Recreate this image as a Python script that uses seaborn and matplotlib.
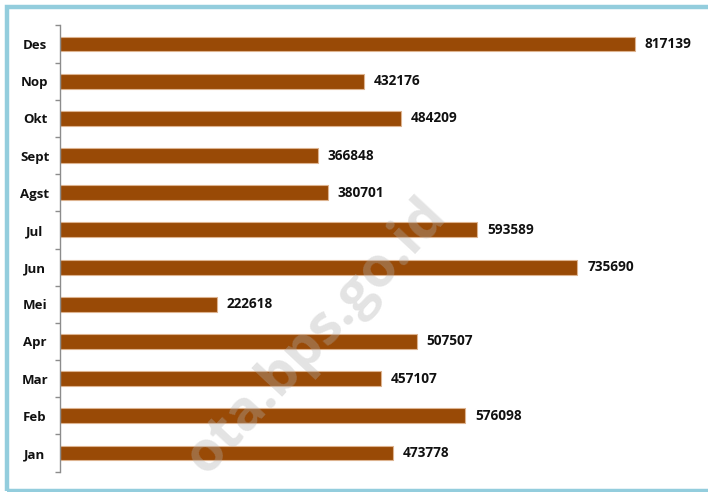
import numpy as np
import pandas as pd
import matplotlib.pyplot as plt
import matplotlib.patches as patches
from matplotlib.ticker import FixedLocator
import seaborn as sns

# data (Jan..Des)
bulan = ['Jan', 'Feb', 'Mar', 'Apr', 'Mei', 'Jun', 'Jul', 'Agst', 'Sept', 'Okt', 'Nop', 'Des']
nilai = [473778, 576098, 457107, 507507, 222618, 735690, 593589, 380701, 366848, 484209, 432176, 817139]

df = pd.DataFrame({'bulan': bulan, 'nilai': nilai})
urutan = bulan[::-1]  # Des on top

sns.set_style('white')
plt.rcParams['font.family'] = ['Open Sans', 'DejaVu Sans']

fig = plt.figure(figsize=(7.08, 4.92), dpi=100)
ax = fig.add_axes([60 / 708, 1 - 471.6 / 492, 633 / 708, 446.2 / 492])

sns.barplot(data=df, x='nilai', y='bulan', order=urutan, orient='h',
            color='#994A06', saturation=1, width=0.4,
            edgecolor='#DDB38F', linewidth=0.8, ax=ax)

ax.set_xlim(0, 900000)
ax.set_ylim(11.5, -0.5)

# value labels
for c in ax.containers:
    ax.bar_label(c, fmt='%d', padding=7, fontsize=9.8, fontweight='bold', color='#111111')

ax.set_xlabel('')
ax.set_ylabel('')
ax.set_xticks([])
for s in ['top', 'right', 'bottom']:
    ax.spines[s].set_visible(False)
ax.spines['left'].set_color('#8C8C8C')
ax.spines['left'].set_linewidth(1)

# ticks between categories, labels centered
ax.tick_params(axis='y', which='major', left=True, length=0, pad=18)
ax.yaxis.set_minor_locator(FixedLocator(np.arange(-0.5, 12, 1)))
ax.tick_params(axis='y', which='minor', left=True, length=3.5, color='#8C8C8C', width=1, direction='out')
for lbl in ax.get_yticklabels():
    lbl.set_ha('center')
    lbl.set_fontweight('bold')
    lbl.set_fontsize(9.5)
    lbl.set_color('#111111')

# watermark
fig.text(0.447, 0.315, 'ota.bps.go.id', fontsize=40, fontweight='bold',
         color='#B0B0B0', alpha=0.35, rotation=47, ha='center', va='center', zorder=0)

# border
fig.patches.append(patches.Rectangle((7 / 708, 1.5 / 492), 1.05, 484 / 492,
                                     transform=fig.transFigure, fill=False,
                                     edgecolor='#93CDDD', linewidth=3.2))

plt.savefig('out.png', dpi=100)
